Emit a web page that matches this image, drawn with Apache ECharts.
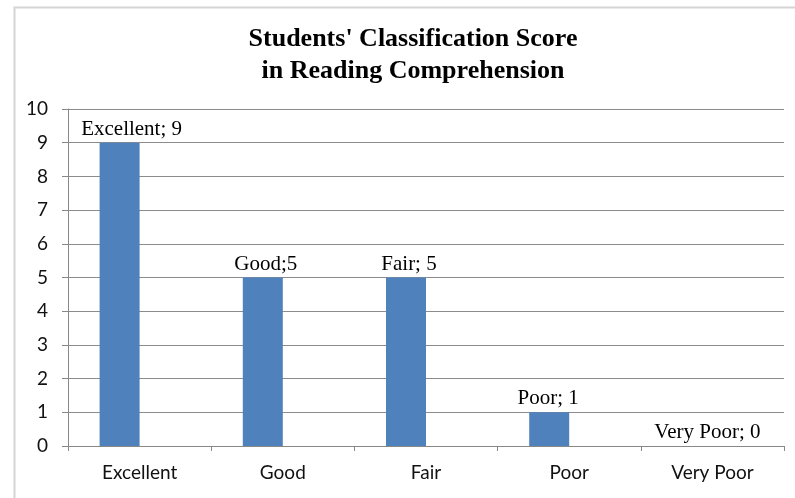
<!DOCTYPE html>
<html><head><meta charset="utf-8">
<script src="https://cdn.jsdelivr.net/npm/echarts@6/dist/echarts.min.js"></script>
<style>html,body{margin:0;padding:0;background:#fff}#c{width:795px;height:498px}</style>
</head><body><div id="c"></div>
<script>
const categories = ['Excellent', 'Good', 'Fair', 'Poor', 'Very Poor'];
const scores = [9, 5, 5, 1, 0];
const labelTexts = ['Excellent; 9', 'Good;5', 'Fair; 5', 'Poor; 1', 'Very Poor; 0'];
const yTicks = [0, 1, 2, 3, 4, 5, 6, 7, 8, 9, 10];

const labelOffsets = [[12, 0], [3, 0], [3, 0], [-1, 0], [15, 0]];
const chart = echarts.init(document.getElementById('c'));
chart.setOption({
  animation: false,
  backgroundColor: '#fff',
  graphic: [{
    type: 'rect', left: 12, top: 5, shape: { width: 800, height: 520 },
    style: { fill: 'none', stroke: '#d4d4d4', lineWidth: 2 }, silent: true
  }],
  title: {
    text: "Students' Classification Score\nin Reading Comprehension",
    left: 408, textAlign: 'center', top: 18,
    textStyle: { fontFamily: 'Liberation Serif', fontWeight: 'bold', fontSize: 26, lineHeight: 32, color: '#000' }
  },
  grid: { left: 68, right: 11, top: 109, bottom: 52, containLabel: false },
  xAxis: {
    type: 'category', data: categories,
    axisLine: { lineStyle: { color: '#888', width: 1 } },
    axisTick: { show: true, length: 5, lineStyle: { color: '#888' } },
    axisLabel: { color: '#111', fontFamily: 'Lato', fontSize: 19, margin: 17 }
  },
  yAxis: {
    type: 'value', min: 0, max: 10, interval: 1,
    axisLine: { show: true, lineStyle: { color: '#888' } },
    axisTick: { show: true, length: 6, lineStyle: { color: '#888' } },
    splitLine: { lineStyle: { color: '#8c8c8c', width: 1 } },
    axisLabel: { color: '#111', fontFamily: 'Lato', fontSize: 19, margin: 20,
      formatter: v => yTicks.includes(v) ? String(v) : '' }
  },
  series: [{
    type: 'bar', data: scores.map((v, i) => ({
      value: v,
      label: { show: true, position: 'top', offset: labelOffsets[i], formatter: labelTexts[i] }
    })),
    barWidth: 40, barGap: '0%',
    itemStyle: { color: '#4F81BD' },
    label: { fontFamily: 'Liberation Serif', fontSize: 21, color: '#000', distance: 3 }
  }, {
    type: 'bar', data: categories.map(() => '-'), barWidth: 40, barGap: '0%'
  }]
});
</script></body></html>
